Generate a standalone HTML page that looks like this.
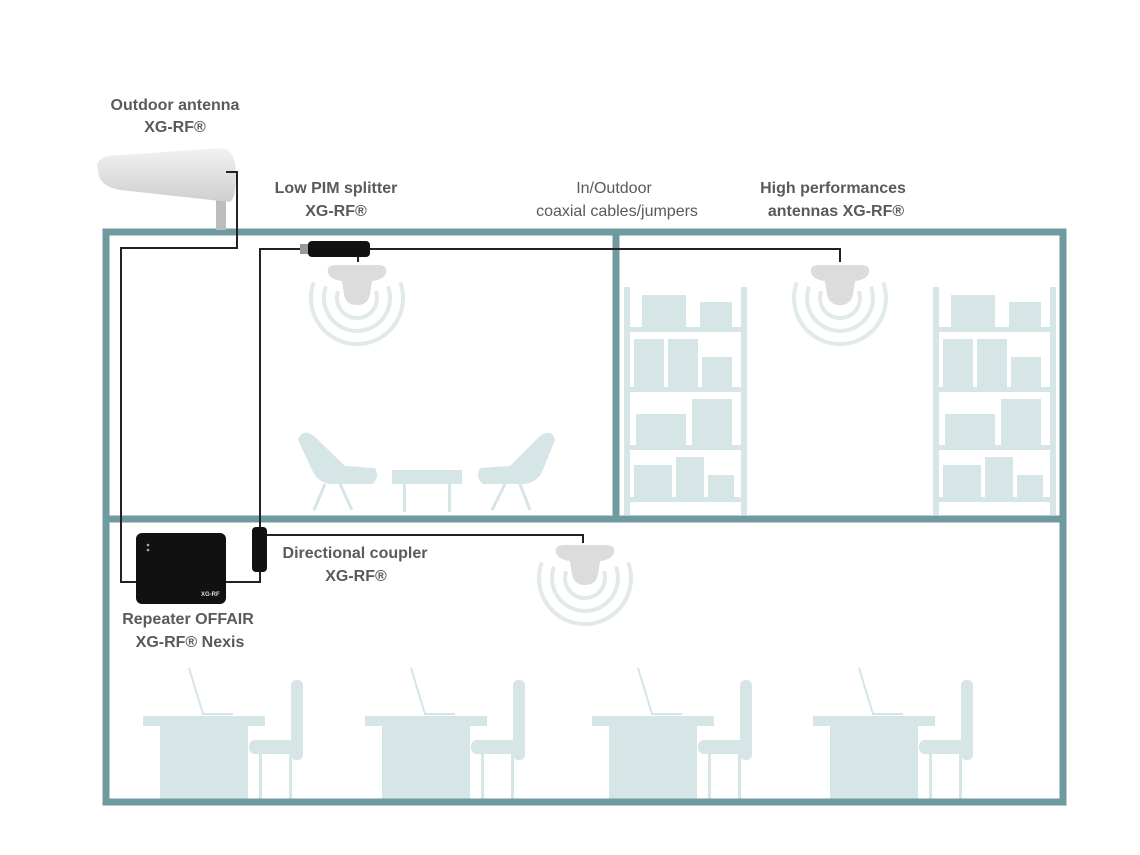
<!DOCTYPE html>
<html><head><style>
html,body{margin:0;padding:0;background:#fff;}
svg{display:block;}
text{font-family:"Liberation Sans",sans-serif;fill:#5a5a5a;font-size:16px;font-weight:bold;}
</style></head><body>
<svg width="1140" height="855" viewBox="0 0 1140 855" xmlns="http://www.w3.org/2000/svg">
<defs>
<linearGradient id="ant" x1="0" y1="0" x2="0" y2="1"><stop offset="0" stop-color="#f2f2f2"/><stop offset="1" stop-color="#cfcfcf"/></linearGradient>
<g id="dome">
  <g fill="none" stroke="#e2e9e9" stroke-width="4">
    <path d="M-18.8,13.2 A20,20 0 1 0 18.8,13.2"/>
    <path d="M-31,8.7 A33,33 0 1 0 31,8.7"/>
    <path d="M-43.2,4.3 A46,46 0 1 0 43.2,4.3"/>
  </g>
  <path d="M-30,-5 Q-32,-14 -20,-14 L20,-14 Q32,-14 30,-5 Q28,2 16,4 L14,16 Q12,28 0,28 Q-12,28 -14,16 L-16,4 Q-28,2 -30,-5Z" fill="#dcdcdc" stroke="#fff" stroke-width="2"/>
</g>
<g id="shelf" fill="#d6e5e5">
  <rect x="0" y="0" width="6" height="228"/><rect x="117" y="0" width="6" height="228"/>
  <rect x="0" y="40" width="123" height="5"/><rect x="0" y="100" width="123" height="5"/>
  <rect x="0" y="158" width="123" height="5"/><rect x="0" y="210" width="123" height="5"/>
  <rect x="18" y="8" width="44" height="32"/><rect x="76" y="15" width="32" height="25"/>
  <rect x="10" y="52" width="30" height="48"/><rect x="44" y="52" width="30" height="48"/><rect x="78" y="70" width="30" height="30"/>
  <rect x="12" y="127" width="50" height="31"/><rect x="68" y="112" width="40" height="46"/>
  <rect x="10" y="178" width="38" height="32"/><rect x="52" y="170" width="28" height="40"/><rect x="84" y="188" width="26" height="22"/>
</g>
<g id="desk" fill="#d6e5e5">
  <rect x="0" y="0" width="122" height="10"/><rect x="17" y="10" width="88" height="74"/>
  <path d="M46,-48 L60,-2 L90,-2" stroke="#d6e5e5" stroke-width="2" fill="none"/>
  <rect x="148" y="-36" width="12" height="80" rx="5"/>
  <rect x="106" y="24" width="52" height="14" rx="6"/>
  <rect x="116" y="38" width="3" height="46"/><rect x="146" y="38" width="3" height="46"/>
</g>
</defs>

<g fill="#d6e5e5">
  <path d="M298,440 Q302,428 314,436 L345,466 L375,468 Q380,478 372,484 L330,484 Q318,482 313,472Z"/>
  <path d="M325,484 L314,510 M340,484 L352,510" stroke="#d6e5e5" stroke-width="3"/>
  <rect x="392" y="470" width="70" height="14"/>
  <rect x="403" y="484" width="3" height="28"/><rect x="448" y="484" width="3" height="28"/>
  <path d="M555,440 Q552,428 540,436 L510,466 L480,468 Q475,478 483,484 L525,484 Q537,482 542,472Z"/>
  <path d="M505,484 L492,510 M520,484 L530,510" stroke="#d6e5e5" stroke-width="3"/>
</g>
<use href="#shelf" x="624" y="287"/>
<use href="#shelf" x="933" y="287"/>
<use href="#desk" x="143" y="716"/>
<use href="#desk" x="365" y="716"/>
<use href="#desk" x="592" y="716"/>
<use href="#desk" x="813" y="716"/>

<g fill="none" stroke="#6f9aa0" stroke-width="7">
  <rect x="106" y="232" width="957" height="570"/>
  <line x1="106" y1="519" x2="1063" y2="519"/>
  <line x1="616" y1="232" x2="616" y2="519"/>
</g>

<rect x="216" y="175" width="10" height="55" fill="#bdbdbd"/>
<path d="M98,170 Q94,160 108,156 L222,148 Q236,150 236,175 Q236,198 230,202 L120,190 Q98,186 98,170Z" fill="url(#ant)"/>

<g fill="none" stroke="#222" stroke-width="2">
  <polyline points="226,172 237,172 237,248 121,248 121,582 137,582"/>
  <polyline points="224,582 260,582 260,571"/>
  <polyline points="260,527 260,249 308,249"/>
  <polyline points="370,249 840,249 840,262"/>
  <polyline points="266,535 583,535 583,545"/>
  <line x1="358" y1="256" x2="358" y2="262"/>
</g>
<rect x="300" y="244" width="10" height="10" fill="#999"/>
<rect x="308" y="241" width="62" height="16" rx="4" fill="#111"/>
<rect x="252" y="527" width="15" height="45" rx="4" fill="#111"/>

<use href="#dome" x="357" y="278"/>
<use href="#dome" x="840" y="278"/>
<use href="#dome" x="585" y="558"/>

<rect x="136" y="533" width="90" height="71" rx="6" fill="#111"/>
<circle cx="148" cy="545" r="1.3" fill="#aaa"/><circle cx="148" cy="550" r="1.3" fill="#aaa"/>
<text x="201" y="596" style="font-size:6px;fill:#ddd">XG-RF</text>

<text x="175" y="110" text-anchor="middle">Outdoor antenna</text>
<text x="175" y="132" text-anchor="middle">XG-RF®</text>
<text x="336" y="193" text-anchor="middle">Low PIM splitter</text>
<text x="336" y="216" text-anchor="middle">XG-RF®</text>
<text x="614" y="193" text-anchor="middle" style="font-weight:normal">In/Outdoor</text>
<text x="617" y="216" text-anchor="middle" style="font-weight:normal">coaxial cables/jumpers</text>
<text x="833" y="193" text-anchor="middle">High performances</text>
<text x="836" y="216" text-anchor="middle">antennas XG-RF®</text>
<text x="355" y="558" text-anchor="middle">Directional coupler</text>
<text x="356" y="581" text-anchor="middle">XG-RF®</text>
<text x="188" y="624" text-anchor="middle">Repeater OFFAIR</text>
<text x="190" y="647" text-anchor="middle">XG-RF® Nexis</text>
</svg>
</body></html>
